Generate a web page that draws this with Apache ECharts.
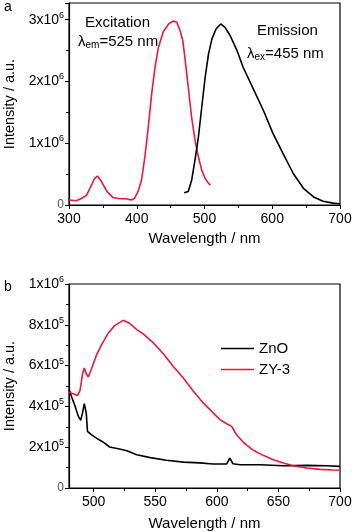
<!DOCTYPE html>
<html>
<head>
<meta charset="utf-8">
<script src="https://cdn.jsdelivr.net/npm/echarts@6/dist/echarts.min.js"></script>
<style>
  html, body { margin: 0; padding: 0; background: #fff; }
  #chart { width: 354px; height: 532px; }
</style>
</head>
<body>
<div id="chart"></div>
<script>
// panel a: excitation / emission spectra  [wavelength nm, intensity]
const excitation = [
  [300, 0.08e6], [311, 0.07e6], [319, 0.11e6], [326, 0.16e6], [333, 0.32e6],
  [338, 0.43e6], [342, 0.47e6], [348, 0.38e6], [356, 0.22e6], [365, 0.12e6],
  [375, 0.10e6], [384, 0.10e6], [385, 0.13e6], [386, 0.09e6], [392, 0.08e6],
  [397, 0.11e6], [402, 0.22e6], [407, 0.40e6], [412, 0.78e6], [417, 1.26e6],
  [422, 1.80e6], [427, 2.23e6], [432, 2.55e6], [439, 2.80e6], [447, 2.93e6],
  [454, 2.98e6], [459, 2.96e6], [464, 2.82e6], [468, 2.66e6], [471, 2.39e6],
  [476, 1.91e6], [481, 1.42e6], [486, 1.05e6], [491, 0.78e6], [496, 0.56e6],
  [501, 0.43e6], [506, 0.35e6], [509, 0.32e6]
];
const emission = [
  [470, 0.20e6], [476, 0.22e6], [481, 0.40e6], [486, 0.73e6], [491, 1.10e6],
  [496, 1.59e6], [501, 2.07e6], [506, 2.45e6], [511, 2.69e6], [517, 2.85e6],
  [524, 2.93e6], [530, 2.88e6], [538, 2.74e6], [548, 2.50e6], [557, 2.23e6],
  [572, 1.88e6], [587, 1.53e6], [601, 1.16e6], [616, 0.83e6], [631, 0.51e6],
  [646, 0.27e6], [661, 0.13e6], [675, 0.06e6], [690, 0.03e6], [700, 0.02e6]
];

// panel b: PL spectra
const zno = [
  [480, 0.485e6], [482, 0.449e6], [485, 0.40e6], [487.6, 0.351e6], [489.5, 0.332e6],
  [491, 0.368e6], [492.4, 0.413e6], [494, 0.368e6], [495, 0.278e6], [498.4, 0.26e6],
  [502.5, 0.243e6], [508, 0.224e6], [513, 0.201e6], [521, 0.191e6], [527, 0.183e6],
  [535, 0.163e6], [546, 0.149e6], [559, 0.136e6], [573, 0.127e6], [586, 0.123e6],
  [597, 0.118e6], [608, 0.118e6], [610.6, 0.147e6], [613, 0.119e6], [619, 0.114e6],
  [635, 0.114e6], [654, 0.109e6], [673, 0.111e6], [689, 0.109e6], [700, 0.106e6]
];
const zy3 = [
  [480, 0.469e6], [483.5, 0.462e6], [487, 0.453e6], [489, 0.48e6], [491, 0.56e6],
  [492.4, 0.588e6], [494, 0.56e6], [495.7, 0.544e6], [498, 0.58e6], [502.5, 0.654e6],
  [506.5, 0.703e6], [512, 0.76e6], [517, 0.796e6], [524, 0.822e6], [529.5, 0.806e6],
  [535, 0.776e6], [540, 0.757e6], [548.5, 0.711e6], [556.6, 0.658e6], [564.7, 0.596e6],
  [572.8, 0.539e6], [581, 0.474e6], [589, 0.417e6], [597, 0.368e6], [602.6, 0.335e6],
  [608, 0.315e6], [612, 0.302e6], [616, 0.261e6], [621.5, 0.224e6], [629.6, 0.185e6],
  [637.7, 0.16e6], [645.8, 0.139e6], [654, 0.123e6], [662, 0.109e6], [673, 0.098e6],
  [683.7, 0.0915e6], [694.5, 0.088e6], [700, 0.087e6]
];

// tick positions for panel b wavelength axis
const bMajorTicks = [500, 550, 600, 650, 700];
const bMinorTicks = [525, 575, 625, 675];

const RED = "#f5153c";
const FONT = "Liberation Sans";

function sciLabel(value) {
  if (value === 0) return "0";
  let exp = Math.floor(Math.log10(value) + 1e-9);
  let mant = Math.round(value / Math.pow(10, exp));
  if (Math.abs(mant * Math.pow(10, exp) - value) > 1) return "";
  return `{m|${mant}x10}{s|${exp}}`;
}

const LABEL_RICH = {
  m: { fontSize: 14, fontFamily: FONT, color: "#000", lineHeight: 18 },
  s: { fontSize: 9, fontFamily: FONT, color: "#000", verticalAlign: "top", lineHeight: 10 },
};

const X_DEFAULT = {
  type: "value",
  nameLocation: "middle",
  nameTextStyle: { fontSize: 15, fontFamily: FONT, color: "#000" },
  axisLine: { show: true, onZero: false, lineStyle: { color: "#000", width: 1.2 } },
  axisTick: { show: true, inside: false, length: 4, lineStyle: { color: "#000" } },
  minorTick: { show: true, splitNumber: 2, length: 3, lineStyle: { color: "#000" } },
  axisLabel: { fontSize: 14, fontFamily: FONT, color: "#000", margin: 7 },
  splitLine: { show: false },
};

const Y_DEFAULT = {
  type: "value",
  name: "Intensity / a.u.",
  nameLocation: "middle",
  nameGap: 50,
  nameTextStyle: { fontSize: 14.5, fontFamily: FONT, color: "#000" },
  axisLine: { show: true, lineStyle: { color: "#000", width: 1.2 } },
  axisTick: { show: true, inside: false, length: 4, lineStyle: { color: "#000" } },
  minorTick: { show: true, splitNumber: 2, length: 3, lineStyle: { color: "#000" } },
  axisLabel: { margin: 5, formatter: sciLabel, rich: LABEL_RICH },
  splitLine: { show: false },
};

const SUB_RICH = {
  l: { fontSize: 15, fontFamily: FONT, fill: "#000", lineHeight: 18 },
  b: { fontSize: 10, fontFamily: FONT, fill: "#000", verticalAlign: "bottom", lineHeight: 10 },
};

let myChart = echarts.init(document.getElementById("chart"), null, { renderer: "canvas" });

let option = {
  animation: false,
  backgroundColor: "#fff",
  grid: [
    { left: 69, right: 14, top: 3, height: 202, show: true, borderColor: "#000", borderWidth: 1.2,
      outerBoundsMode: "none", containLabel: false },
    { left: 69, right: 14, top: 284, height: 204, show: true, borderColor: "#000", borderWidth: 1.2,
      outerBoundsMode: "none", containLabel: false },
  ],
  xAxis: [
    { ...X_DEFAULT, gridIndex: 0, min: 300, max: 700, interval: 100, name: "Wavelength / nm", nameGap: 26 },
    {
      ...X_DEFAULT, gridIndex: 1, min: 480, max: 700, name: "Wavelength / nm", nameGap: 28,
      axisTick: { ...X_DEFAULT.axisTick, customValues: bMajorTicks },
      minorTick: { show: false },
      axisLabel: { ...X_DEFAULT.axisLabel, customValues: bMajorTicks },
    },
    {
      // minor ticks only for panel b
      type: "value", gridIndex: 1, min: 480, max: 700, position: "bottom",
      axisLine: { show: false },
      axisTick: { show: true, length: 3, customValues: bMinorTicks, lineStyle: { color: "#000" } },
      axisLabel: { show: false },
      splitLine: { show: false },
    },
  ],
  yAxis: [
    { ...Y_DEFAULT, gridIndex: 0, min: 0, max: 3.27e6, interval: 1e6 },
    { ...Y_DEFAULT, gridIndex: 1, min: 0, max: 1e6, interval: 2e5 },
  ],
  legend: {
    orient: "vertical",
    left: 221,
    top: 341,
    padding: 0,
    itemWidth: 33,
    itemHeight: 14,
    itemGap: 6,
    icon: "path://M0,0 L33,0 L33,1.5 L0,1.5 Z",
    textStyle: { fontSize: 15, fontFamily: FONT, color: "#000" },
    data: ["ZnO", "ZY-3"],
  },
  graphic: [
    { type: "text", left: 4, top: 0, style: { text: "a", font: `14px ${FONT}`, fill: "#000" } },
    { type: "text", left: 4, top: 280, style: { text: "b", font: `14px ${FONT}`, fill: "#000" } },
    { type: "text", left: 85, top: 15, style: { text: "Excitation", font: `15px ${FONT}`, fill: "#000" } },
    { type: "text", left: 78, top: 34, style: { text: "{l|λ}{b|em}{l|=525 nm}", rich: SUB_RICH } },
    { type: "text", left: 257, top: 23, style: { text: "Emission", font: `15px ${FONT}`, fill: "#000" } },
    { type: "text", left: 247, top: 46, style: { text: "{l|λ}{b|ex}{l|=455 nm}", rich: SUB_RICH } },
  ],
  series: [
    { name: "Excitation", type: "line", xAxisIndex: 0, yAxisIndex: 0, data: excitation,
      symbol: "none", color: RED, lineStyle: { width: 1.6, color: RED } },
    { name: "Emission", type: "line", xAxisIndex: 0, yAxisIndex: 0, data: emission,
      symbol: "none", color: "#000", lineStyle: { width: 1.6, color: "#000" } },
    { name: "ZnO", type: "line", xAxisIndex: 1, yAxisIndex: 1, data: zno,
      symbol: "none", color: "#000", lineStyle: { width: 1.6, color: "#000" } },
    { name: "ZY-3", type: "line", xAxisIndex: 1, yAxisIndex: 1, data: zy3,
      symbol: "none", color: RED, lineStyle: { width: 1.6, color: RED } },
  ],
};

option && myChart.setOption(option);
</script>
</body>
</html>
